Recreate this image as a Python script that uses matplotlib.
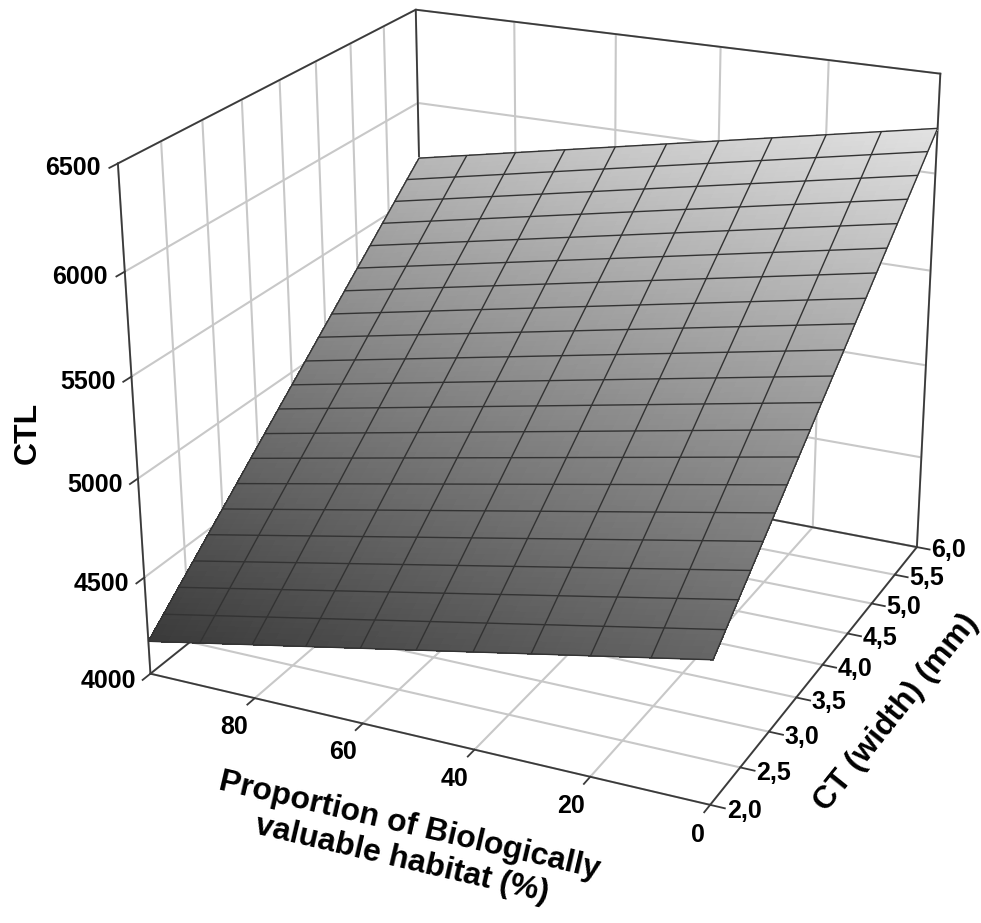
import numpy as np, matplotlib
matplotlib.use('Agg')
import matplotlib.pyplot as plt
from matplotlib.colors import LinearSegmentedColormap
from matplotlib.transforms import ScaledTranslation

plt.rcParams['font.family'] = ['Liberation Sans', 'DejaVu Sans']
plt.rcParams['font.weight'] = 'bold'
plt.rcParams['axes.labelweight'] = 'bold'

x_values = [0, 10, 20, 30, 40, 50, 60, 70, 80, 90, 100]
y_values = [2.0, 2.2, 2.4, 2.6, 2.8, 3.0, 3.2, 3.4, 3.6, 3.8, 4.0,
            4.2, 4.4, 4.6, 4.8, 5.0, 5.2, 5.4, 5.6, 5.8, 6.0]
ctl_values = [
    [4700, 4647, 4594, 4541, 4488, 4435, 4382, 4329, 4276, 4223, 4170],
    [4776, 4723, 4670, 4617, 4564, 4511, 4458, 4405, 4352, 4299, 4246],
    [4853, 4800, 4747, 4694, 4641, 4588, 4535, 4482, 4429, 4376, 4323],
    [4929, 4876, 4823, 4770, 4717, 4664, 4611, 4558, 4505, 4452, 4399],
    [5006, 4953, 4900, 4847, 4794, 4741, 4688, 4635, 4582, 4529, 4476],
    [5082, 5029, 4976, 4923, 4870, 4817, 4764, 4711, 4658, 4605, 4552],
    [5158, 5105, 5052, 4999, 4946, 4893, 4840, 4787, 4734, 4681, 4628],
    [5235, 5182, 5129, 5076, 5023, 4970, 4917, 4864, 4811, 4758, 4705],
    [5311, 5258, 5205, 5152, 5099, 5046, 4993, 4940, 4887, 4834, 4781],
    [5388, 5335, 5282, 5229, 5176, 5123, 5070, 5017, 4964, 4911, 4858],
    [5464, 5411, 5358, 5305, 5252, 5199, 5146, 5093, 5040, 4987, 4934],
    [5540, 5487, 5434, 5381, 5328, 5275, 5222, 5169, 5116, 5063, 5010],
    [5617, 5564, 5511, 5458, 5405, 5352, 5299, 5246, 5193, 5140, 5087],
    [5693, 5640, 5587, 5534, 5481, 5428, 5375, 5322, 5269, 5216, 5163],
    [5770, 5717, 5664, 5611, 5558, 5505, 5452, 5399, 5346, 5293, 5240],
    [5846, 5793, 5740, 5687, 5634, 5581, 5528, 5475, 5422, 5369, 5316],
    [5922, 5869, 5816, 5763, 5710, 5657, 5604, 5551, 5498, 5445, 5392],
    [5999, 5946, 5893, 5840, 5787, 5734, 5681, 5628, 5575, 5522, 5469],
    [6075, 6022, 5969, 5916, 5863, 5810, 5757, 5704, 5651, 5598, 5545],
    [6152, 6099, 6046, 5993, 5940, 5887, 5834, 5781, 5728, 5675, 5622],
    [6228, 6175, 6122, 6069, 6016, 5963, 5910, 5857, 5804, 5751, 5698],
]
x_ticks = [0, 20, 40, 60, 80]
y_ticks = [2.0, 2.5, 3.0, 3.5, 4.0, 4.5, 5.0, 5.5, 6.0]
y_ticklabels = ['2,0', '2,5', '3,0', '3,5', '4,0', '4,5', '5,0', '5,5', '6,0']
z_ticks = [4000, 4500, 5000, 5500, 6000, 6500]
x_label = 'Proportion of Biologically\nvaluable habitat (%)'
y_label = 'CT (width) (mm)'
z_label = 'CTL'

W, H = 981, 923
fig = plt.figure(figsize=(W / 100, H / 100), dpi=100, facecolor='white')
ax = fig.add_subplot(projection='3d', computed_zorder=False)
xmin, xmax, ymin, ymax, zmin, zmax = 0, 100, 2, 6, 4000, 6500
ax.set_xlim(xmax, xmin, view_margin=0)
ax.set_ylim(ymin, ymax, view_margin=0)
ax.set_zlim(zmin, zmax, view_margin=0)
ax.view_init(22.2666, -64.7766, 0.2375)
ax.set_proj_type('persp', focal_length=0.5509)
ax.set_box_aspect((1, 0.9892, 0.8873), zoom=1.0)
S, cx, cy = 964.52, 536.35, 383.67
ax.set_position([(cx - S / 2) / W, 1 - (cy + S / 2) / H, S / W, S / H])

frame = '#3a3a3a'
for axis in (ax.xaxis, ax.yaxis, ax.zaxis):
    axis.set_pane_color((1, 1, 1, 1))
    axis.pane.set_edgecolor('white')
    axis.line.set_color(frame)
    axis.line.set_linewidth(1.3)
    axis._axinfo['grid'].update(color='#c8c8c8', linewidth=1.5)
    axis._axinfo['tick'].update(inward_factor=0, outward_factor=-0.3)
    axis._axinfo['tick']['linewidth'] = {True: 1.3, False: 0.5}

ax.zaxis.set_ticks_position('lower')
ax.zaxis.set_label_position('lower')
ax.set_xticks(x_ticks)
ax.set_yticks(y_ticks, y_ticklabels)
ax.set_zticks(z_ticks)
ax.tick_params(axis='both', labelsize=18, color=frame, labelcolor='black')
ax.tick_params(axis='x', pad=0)
ax.tick_params(axis='y', pad=2)
ax.tick_params(axis='z', pad=10)
for t in ax.xaxis.get_ticklabels():
    t.set_ha('right')
for t in ax.yaxis.get_ticklabels():
    t.set_ha('left')
    t.set_va('bottom')
for t in ax.zaxis.get_ticklabels():
    t.set_va('center')

ax.zaxis.set_rotate_label(False)
label_shift_px = ((ax.xaxis, x_label, 34, 30, 13), (ax.yaxis, y_label, 34, -10, 42), (ax.zaxis, z_label, 42, 47, 16))
for axis, text, pad, dx, dy in label_shift_px:
    axis.set_label_text(text, fontsize=23, fontweight='bold', linespacing=1.2)
    axis.labelpad = pad
    # Axis3D resets the label transform when drawing, so the shifted one is supplied through the getter
    shifted = ax.transData + ScaledTranslation(dx / 100, dy / 100, fig.dpi_scale_trans)
    axis.label.get_transform = lambda tr=shifted: tr
ax.zaxis.label.set_rotation(90)

# box frame
ax.plot([xmax, xmax, xmin], [ymin, ymax, ymax], [zmax, zmax, zmax], color=frame, lw=1.3, zorder=1)
ax.plot([xmax, xmax], [ymax, ymax], [zmin, zmax], color=frame, lw=1.3, zorder=1)
ax.plot([xmin, xmin], [ymax, ymax], [zmin, zmax], color=frame, lw=1.3, zorder=1)
ax.plot([xmax, xmax, xmin], [ymin, ymax, ymax], [zmin, zmin, zmin], color=frame, lw=1.3, zorder=1)

# surface: each table cell is rendered with fine shading steps, table lines on top
xv, yv, zv = np.array(x_values, float), np.array(y_values, float), np.array(ctl_values, float)
sub = 5
xf = np.linspace(xv[0], xv[-1], (len(xv) - 1) * sub + 1)
yf = np.linspace(yv[0], yv[-1], (len(yv) - 1) * sub + 1)
zf = np.array([np.interp(xf, xv, row) for row in zv])
zf = np.array([np.interp(yf, yv, col) for col in zf.T]).T
XF, YF = np.meshgrid(xf, yf)
cmap = LinearSegmentedColormap.from_list('surf', ['#3a3a3a', '#e2e2e2'])
centers = (zf[:-1, :-1] + zf[1:, 1:]) / 2
colors = cmap((centers - zv.min()) / (zv.max() - zv.min()))
ax.plot_surface(XF, YF, zf, rstride=1, cstride=1, facecolors=colors, shade=False,
                antialiased=False, linewidth=0.4, zorder=2)
XG, YG = np.meshgrid(xv, yv)
ax.plot_wireframe(XG, YG, zv, rstride=1, cstride=1, color='#333333', linewidth=1.0, zorder=3)

fig.savefig('out.png', dpi=100, facecolor='white')
